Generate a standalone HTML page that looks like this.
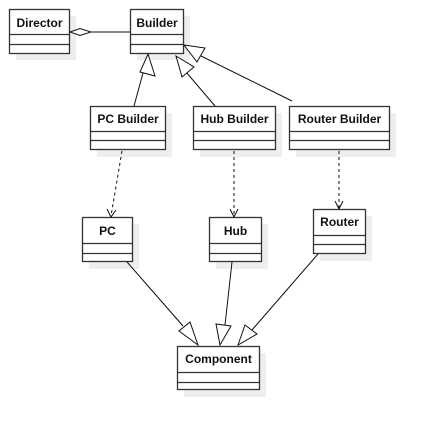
<!DOCTYPE html>
<html><head><style>body{margin:0;background:#fff}</style></head><body>
<svg width="429" height="430" xmlns="http://www.w3.org/2000/svg" font-family="Liberation Sans, sans-serif">
<defs>
<g id="x"></g>
</defs>
<g fill="#eee">
<rect x="16" y="16" width="60" height="44"/><rect x="137" y="16" width="53" height="44"/>
<rect x="97" y="113" width="75" height="44"/><rect x="200" y="113" width="82" height="44"/><rect x="296" y="113" width="100" height="44"/>
<rect x="89" y="224" width="50" height="45"/><rect x="216" y="224" width="52" height="45"/><rect x="320" y="216" width="52" height="45"/>
<rect x="184" y="353" width="82" height="44"/>
</g>
<g fill="#fff" stroke="#333" stroke-width="1.3">
<rect x="9.5" y="9.5" width="60" height="44"/><rect x="130.5" y="9.5" width="53" height="44"/>
<rect x="90.5" y="106.5" width="75" height="43"/><rect x="193.5" y="106.5" width="82" height="43"/><rect x="289.5" y="106.5" width="100" height="43"/>
<rect x="82.5" y="217.5" width="50" height="44"/><rect x="209.5" y="217.5" width="52" height="44"/><rect x="313.5" y="209.5" width="52" height="44"/>
<rect x="177.5" y="346.5" width="82" height="43"/>
</g>
<g stroke="#333" stroke-width="1.3">
<path d="M9 34.5h61M9 44.5h61M130 34.5h54M130 44.5h54M90 131.5h76M90 140.5h76M193 131.5h83M193 140.5h83M289 131.5h101M289 140.5h101M82 243.5h51M82 253.5h51M209 243.5h53M209 253.5h53M313 235.5h53M313 244.5h53M177 372.5h83M177 382.5h83"/>
</g>
<g font-size="12" font-weight="bold" fill="#111" text-anchor="middle">
<text x="39.5" y="27">Director</text><text x="157" y="27">Builder</text>
<text x="128" y="123">PC Builder</text><text x="234.5" y="123">Hub Builder</text><text x="339.5" y="123">Router Builder</text>
<text x="107.5" y="235">PC</text><text x="235.5" y="235">Hub</text><text x="339.5" y="226">Router</text>
<text x="218.5" y="363">Component</text>
</g>
<g stroke="#111" stroke-width="1" fill="none">
<line x1="91" y1="32" x2="130" y2="32"/>
<path d="M70 32L80 28.5L91 32L80 35.5Z" fill="#fff"/>
<line x1="134" y1="106" x2="143" y2="73"/>
<path d="M148 54L155 76L140 72Z" fill="#fff"/>
<line x1="215" y1="106" x2="186" y2="72"/>
<path d="M176 56L194 67L182 77Z" fill="#fff"/>
<line x1="292" y1="101" x2="201" y2="56"/>
<path d="M184 45L205 48L197 62Z" fill="#fff"/>
<g stroke-dasharray="3,3">
<line x1="122" y1="151" x2="111" y2="216"/><line x1="234" y1="151" x2="234" y2="216"/><line x1="339" y1="151" x2="339" y2="208"/>
</g>
<path d="M107 209L111 217L116 210M230 209L234 217L238 209M335 201L339 209L343 201"/>
<line x1="127" y1="262" x2="183" y2="326"/>
<path d="M198 345L179 331L190 322Z" fill="#fff"/>
<line x1="232" y1="262" x2="225" y2="325"/>
<path d="M220 345L216 324L231 326Z" fill="#fff"/>
<line x1="318" y1="254" x2="252" y2="330"/>
<path d="M238 345L245 325L257 334Z" fill="#fff"/>
</g>
</svg>
</body></html>
